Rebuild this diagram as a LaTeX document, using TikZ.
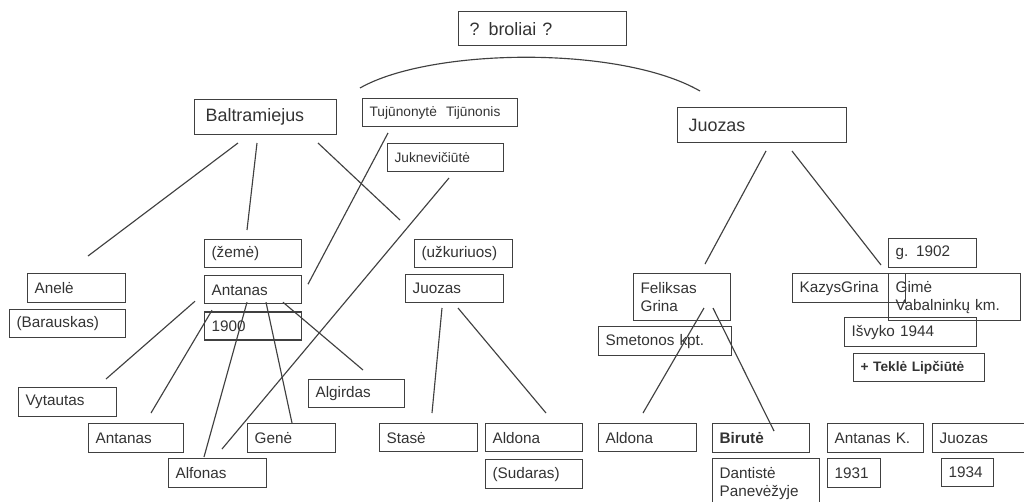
\documentclass[tikz,border=0pt]{standalone}
\usepackage{fontspec}
\setmainfont{Liberation Sans}
\usetikzlibrary{positioning,calc}

\begin{document}
\begin{tikzpicture}[
    x=0.02cm, y=-0.02cm,
    node distance=0.14cm,
    every node/.style={font=\fontsize{8.7}{10.2}\selectfont, text=black!80},
    famblock/.style={
      rectangle, draw=black!75, line width=0.7pt,
      anchor=north west, align=left,
      inner xsep=0.14cm, inner ysep=1pt
    },
    sz/.style 2 args={text width={(#1-14)*0.02cm}, minimum height={#2*0.02cm}},
    bigblock/.style={famblock, inner xsep=0.22cm, font=\fontsize{10.2}{12}\selectfont},
    bigsz/.style 2 args={text width={(#1-22)*0.02cm}, minimum height={#2*0.02cm}},
    smallblock/.style={famblock, font=\fontsize{7.8}{9.4}\selectfont},
    link/.style={draw=black!75, line width=0.65pt}
  ]
  \useasboundingbox (0,0) rectangle (1024,501);
  \clip (0,0) rectangle (1024,501);

  % Top
  \node[bigblock, bigsz={168}{34}] (broliai) at (458,11) {? broliai ?};
  \node[bigblock, bigsz={142}{35}] (balt) at (194,99) {Baltramiejus};
  \node[bigblock, bigsz={169}{35}] (juoz) at (677,107) {Juozas};
  \node[smallblock, sz={155}{28}] (tuj) at (362,98) {Tujūnonytė~ Tijūnonis};
  \node[smallblock, sz={116}{28}] (jukn) at (387,143) {Juknevičiūtė};

  % Baltramiejus' children
  \node[famblock, sz={98}{29}] (anele) at (27,273) {Anelė};
  \node[famblock, sz={116}{28}] (barausk) at (9,309) {(Barauskas)};
  \node[famblock, sz={97}{28}] (zeme) at (204,239) {(žemė)};
  \node[famblock, sz={97}{28}, below=of zeme] (antanas) {Antanas};
  \node[famblock, sz={97}{28}, below=of antanas] (y1900) {1900};
  \node[famblock, sz={98}{28}] (uzk) at (414,239) {(užkuriuos)};
  \node[famblock, sz={98}{28}] (juozmid) at (405,274) {Juozas};

  % Antanas' children
  \node[famblock, sz={98}{29}] (vytaut) at (18,387) {Vytautas};
  \node[famblock, sz={95}{29}] (antlow) at (88,423) {Antanas};
  \node[famblock, sz={98}{29}] (alfon) at (168,458) {Alfonas};
  \node[famblock, sz={88}{29}] (gene) at (247,423) {Genė};
  \node[famblock, sz={96}{28}] (algird) at (308,379) {Algirdas};

  % Juozas' (middle) children
  \node[famblock, sz={98}{28}] (stase) at (379,423) {Stasė};
  \node[famblock, sz={97}{28}] (aldmid) at (485,423) {Aldona};
  \node[famblock, sz={97}{29}, below=of aldmid] (sudar) {(Sudaras)};

  % Juozas' (right) family
  \node[famblock, sz={97}{47}] (felik) at (633,273) {Feliksas\\Grina};
  \node[famblock, sz={133}{29}] (smet) at (598,326) {Smetonos kpt.};
  \node[famblock, sz={113}{29}] (kazys) at (792,273) {KazysGrina};
  \node[famblock, sz={88}{29}] (g1902) at (888,238) {g. 1902};
  \node[famblock, sz={132}{47}] (gime) at (888,273) {Gimė\\Vabalninkų km.};
  \node[famblock, sz={132}{29}] (isvyk) at (844,317) {Išvyko 1944};
  \node[smallblock, sz={131}{28}] (tekle) at (853,353) {\bfseries + Teklė Lipčiūtė};

  % Bottom row, right
  \node[famblock, sz={98}{28}] (aldr) at (598,423) {Aldona};
  \node[famblock, sz={97}{29}] (birute) at (712,423) {\bfseries Birutė};
  \node[famblock, sz={107}{50}] (dant) at (712,458) {Dantistė\\Panevėžyje};
  \node[famblock, sz={96}{29}] (antk) at (827,423) {Antanas K.};
  \node[famblock, sz={53}{29}] (y1931) at (827,458) {1931};
  \node[famblock, sz={100}{29}] (juozr) at (932,423) {Juozas};
  \node[famblock, sz={52}{28}] (y1934) at (941,458) {1934};

  % Brothers arc
  \coordinate (arcl) at (360,88);
  \coordinate (arcr) at (700,91);
  \draw[link] (arcl) .. controls (430,48) and (620,45) .. (arcr);

  % Links
  \draw[link] ($(balt.north west)+(44,44)$) -- ($(anele.north west)+(61,-17)$);
  \draw[link] ($(balt.north west)+(63,44)$) -- ($(zeme.north west)+(43,-9)$);
  \draw[link] ($(balt.north west)+(124,44)$) -- ($(uzk.north west)+(-14,-19)$);
  \draw[link] ($(tuj.north west)+(26,35)$) -- ($(antanas.north west)+(104,9)$);
  \draw[link] ($(jukn.north west)+(62,35)$) -- ($(alfon.north west)+(54,-9)$);

  \draw[link] ($(antanas.north west)+(-9,26)$) -- ($(vytaut.north west)+(88,-8)$);
  \draw[link] ($(antanas.north west)+(8,35)$) -- ($(antlow.north west)+(63,-10)$);
  \draw[link] ($(antanas.north west)+(43,27)$) -- ($(alfon.north west)+(36,-1)$);
  \draw[link] ($(antanas.north west)+(62,27)$) -- ($(gene.north west)+(45,0)$);
  \draw[link] ($(antanas.north west)+(79,27)$) -- ($(algird.north west)+(55,-9)$);

  \draw[link] ($(juozmid.north west)+(37,34)$) -- ($(stase.north west)+(53,-10)$);
  \draw[link] ($(juozmid.north west)+(53,34)$) -- ($(aldmid.north west)+(61,-10)$);

  \draw[link] ($(juoz.north west)+(89,44)$) -- ($(felik.north west)+(72,-9)$);
  \draw[link] ($(juoz.north west)+(115,44)$) -- ($(kazys.north west)+(89,-8)$);
  \draw[link] ($(felik.north west)+(71,35)$) -- ($(aldr.north west)+(45,-10)$);
  \draw[link] ($(felik.north west)+(80,35)$) -- ($(birute.north west)+(62,8)$);

\end{tikzpicture}
\end{document}
